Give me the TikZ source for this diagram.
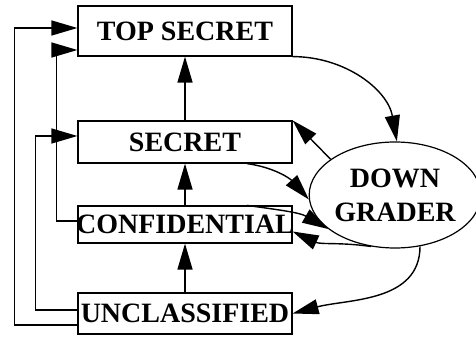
\documentclass[tikz,border=0pt]{standalone}
\usepackage{fontspec}
\setmainfont{Liberation Serif}
\usetikzlibrary{arrows.meta,shapes.geometric}

\tikzset{
  level/.style={draw, line width=1.2pt, minimum width=214pt, inner sep=0pt,
    font=\fontsize{28}{34}\selectfont\bfseries},
  flow/.style={line width=1.4pt, -{Triangle[length=26pt,width=15pt]}}
}

\begin{document}
\begin{tikzpicture}[x=1pt,y=1pt]
\useasboundingbox (0,0) rectangle (476,337);

% security levels
\node[level, minimum height=50pt] (top) at (185,306) {TOP SECRET};
\node[level, minimum height=42pt] (sec) at (185,195) {SECRET};
\node[level, minimum height=37pt] (conf) at (185,112.5) {\makebox[214pt]{CONFIDENTIAL}};
\node[level, minimum height=41pt] (unc) at (185,23.5) {UNCLASSIFIED};

% downgrader
\node[draw, ellipse, line width=1.2pt, minimum width=160pt, minimum height=106pt,
  inner sep=0pt, align=center, font=\fontsize{28}{34}\selectfont\bfseries]
  (dg) at (395,142) {DOWN\\GRADER};

% upward flows
\draw[flow] (sec) -- (top);
\draw[flow] (conf) -- (sec);
\draw[flow] (unc) -- (conf);

\draw[flow] ([yshift=-11.5pt]unc.west) -- ++(-63,0) |- ([yshift=3pt]top.west);
\draw[flow] ([yshift=3.5pt]unc.west) -- ++(-42,0) |- ([yshift=6pt]sec.west);
\draw[flow] ([yshift=3.5pt]conf.west) -- ++(-21,0) |- ([yshift=-19pt]top.west);

% through the downgrader
\draw[flow] (top.south east) to[out=0, in=100] (dg.88);
\draw[flow] (dg.151) -- (sec.north east);
\draw[flow] ([xshift=62pt]sec.south) to[out=-8, in=132] (dg.183);
\draw[flow] ([xshift=62pt]conf.north) to[out=-8, in=150] (dg.207);
\draw[flow] (dg.245) to[out=172, in=-25] ([yshift=-7pt]conf.east);
\draw[flow] (dg.296) to[out=-90, in=15] (unc.east);
\end{tikzpicture}
\end{document}
